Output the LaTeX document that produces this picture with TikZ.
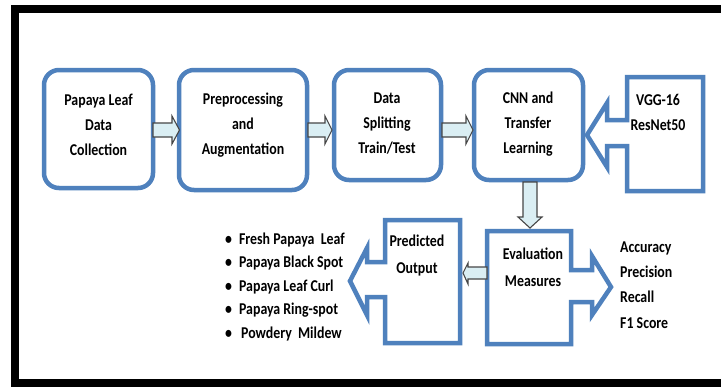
\documentclass[tikz,border=0pt]{standalone}
\usepackage{fontspec}
\setmainfont{Carlito}[FakeStretch=0.84]
\definecolor{boxblue}{RGB}{79,129,189}
\definecolor{arrowfill}{RGB}{218,238,243}
\definecolor{arrowline}{RGB}{70,70,70}
\begin{document}
\begin{tikzpicture}[x=1pt,y=-1pt,
  stage/.style={draw=boxblue, line width=4.5pt, rounded corners=15pt, fill=white, inner sep=0},
  callout/.style={draw=boxblue, line width=4.5pt, fill=white, line join=miter, miter limit=10},
  blockarrow/.style={draw=arrowline, line width=1.1pt, fill=arrowfill, line join=miter},
  lbl/.style={font=\bfseries\fontsize{16.5}{25}\selectfont, align=center, text=black, inner sep=0},
  lbltwo/.style={font=\bfseries\fontsize{16.5}{27}\selectfont, align=center, text=black, inner sep=0},
  listtxt/.style={font=\bfseries\fontsize{16.5}{23.5}\selectfont, align=left, text=black, inner sep=0, anchor=west},
]
\useasboundingbox (0,0) rectangle (721,389);
\fill[white] (0,0) rectangle (721,389);

% outer frame (open on the right)
\draw[line width=8pt] (725,9) -- (15,9) -- (15,383) -- (725,383);

% pipeline stages
\node[stage, minimum width=109pt, minimum height=118pt] (b1) at (98.5,129) {};
\node[stage, minimum width=128pt, minimum height=120pt] (b2) at (243,130) {};
\node[stage, minimum width=107pt, minimum height=110pt] (b3) at (387.5,125) {};
\node[stage, minimum width=109pt, minimum height=110pt] (b4) at (528.5,125) {};

\node[lbl] (t1) at (98.5,125) {Papaya Leaf\\Data\\Collection};
\node[lbl] (t2) at (243,125) {Preprocessing\\and\\Augmentation};
\node[lbl] (t3) at (387,124) {Data\\Splitting\\Train/Test};
\node[lbl] (t4) at (528,124) {CNN and\\Transfer\\Learning};

% model callout pointing left into the CNN stage
\draw[callout] (627,77) -- (703,77) -- (703,191) -- (627,191) -- (627,146) -- (607,146)
  -- (607,167) -- (587,135) -- (607,103) -- (607,120) -- (627,120) -- cycle;
\node[lbl] (tv) at (658,112.5) {VGG-16\\ResNet50};

% evaluation callout pointing right to the metrics
\draw[callout] (487,231) -- (571,231) -- (571,270) -- (592,270) -- (592,256) -- (611,287)
  -- (592,315) -- (592,302) -- (571,302) -- (571,344) -- (487,344) -- cycle;
\node[lbltwo] (te) at (533,267) {Evaluation\\Measures};

% prediction callout pointing left to the class list
\draw[callout] (385,220) -- (460,220) -- (460,343) -- (385,343) -- (385,297) -- (367,297)
  -- (367,315) -- (350,281) -- (367,248) -- (367,262) -- (385,262) -- cycle;
\node[lbltwo] (tp) at (417,255.5) {Predicted\\Output};

% small block arrows between stages
\draw[blockarrow] (153,123) -- (172,123) -- (172,116) -- (179.5,130) -- (172,144) -- (172,137) -- (153,137) -- cycle;
\draw[blockarrow] (308,123) -- (325,123) -- (325,116) -- (332,130) -- (325,144) -- (325,137) -- (308,137) -- cycle;
\draw[blockarrow] (442,123) -- (466,123) -- (466,116) -- (473,130) -- (466,144) -- (466,137) -- (442,137) -- cycle;
\draw[blockarrow] (523,182) -- (537,182) -- (537,217) -- (542,217) -- (530,228) -- (518,217) -- (523,217) -- cycle;
\draw[blockarrow] (487,267) -- (468,267) -- (468,263) -- (463,273) -- (468,284) -- (468,279) -- (487,279) -- cycle;

% metrics
\node[listtxt, font=\bfseries\fontsize{16.5}{25.3}\selectfont] (tm) at (620,285) {Accuracy\\Precision\\Recall\\F1 Score};

% class list
\node[listtxt] (tc) at (225,287) {\textbullet\hspace{7pt}Fresh Papaya\ \ Leaf\\\textbullet\hspace{7pt}Papaya Black Spot\\\textbullet\hspace{7pt}Papaya Leaf Curl\\\textbullet\hspace{7pt}Papaya Ring-spot\\\textbullet\hspace{9pt}Powdery\ \ Mildew};
\end{tikzpicture}
\end{document}
